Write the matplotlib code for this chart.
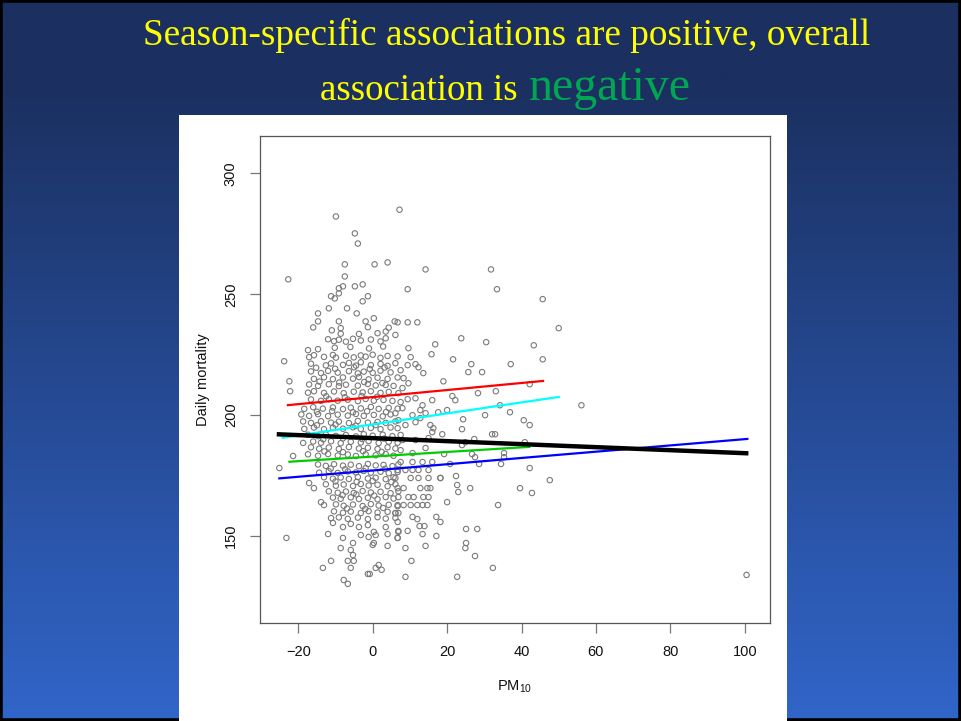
# -*- coding:utf-8 -*-

import numpy as np
import matplotlib
matplotlib.use("Agg")
import matplotlib.pyplot as plt
from matplotlib.patches import Rectangle

# ---- data ----
# (PM10, daily mortality) pairs, grouped by part of the cloud
high_points = [
    (-9.9, 282.2), (7.2, 285.0), (-4.8, 275.2), (-4.0, 271.0), (-7.5, 262.4), (0.5, 262.4),
    (4.0, 263.2), (-22.7, 256.2), (-7.5, 257.4), (-8.0, 253.3), (-9.1, 252.5), (-4.8, 253.3),
    (-2.7, 254.1), (-11.2, 249.2), (-10.2, 248.3), (-9.1, 250.4), (-1.3, 249.2), (-2.7, 247.1),
    (-14.7, 242.1), (-11.8, 244.2), (-6.9, 244.2), (-4.3, 242.1), (-14.7, 238.8), (-9.1, 238.8),
    (-1.9, 238.8), (0.3, 240.1), (5.9, 238.8), (14.2, 260.3), (31.8, 260.3), (9.4, 252.1),
    (33.4, 252.1), (6.7, 238.4), (9.4, 238.4), (12.0, 238.4),
]

right_points = [
    (45.7, 248.0), (50.0, 236.0), (43.3, 228.9), (45.7, 223.1), (42.2, 212.8), (56.1, 204.1),
    (40.6, 197.9), (42.2, 195.9), (40.9, 188.8), (42.2, 178.1), (47.6, 173.1), (39.6, 169.8),
    (42.8, 167.8), (100.5, 133.9), (33.7, 162.8), (26.2, 169.8), (23.0, 168.2), (22.7, 171.1),
    (20.0, 164.0), (25.1, 152.9), (28.1, 152.9), (25.1, 147.1), (24.9, 145.0), (27.5, 141.7),
    (32.3, 136.8), (22.7, 133.1), (8.8, 133.1), (10.4, 139.7), (8.8, 145.0), (14.2, 145.9),
    (17.1, 150.0), (13.4, 150.8), (9.4, 152.1), (6.9, 152.1), (12.6, 154.1), (13.9, 154.1),
    (10.7, 157.9), (12.0, 157.0), (17.1, 157.9), (18.2, 155.8), (28.6, 179.8), (34.5, 179.8),
    (27.5, 182.6), (35.3, 182.6), (20.8, 179.8), (22.4, 174.8), (18.2, 174.0),
    (23.8, 231.8), (30.5, 230.2), (37.1, 221.1), (25.7, 217.8), (29.4, 217.8), (26.5, 221.1),
    (21.6, 223.1), (16.8, 229.3), (15.8, 225.2), (19.0, 214.0), (28.3, 209.1), (33.1, 209.9),
    (21.4, 207.9), (22.2, 206.2), (34.2, 204.1), (30.2, 200.0), (36.9, 201.2), (24.3, 198.3),
    (20.0, 202.1), (17.6, 201.2), (24.0, 194.2), (32.1, 192.1), (32.9, 192.1), (26.7, 183.9),
    (19.2, 183.9), (35.3, 184.3), (16.0, 193.0), (18.7, 192.1), (24.0, 187.6), (24.9, 188.8),
    (27.3, 190.1),
]

mid_right_points = [
    (9.6, 227.7), (10.2, 224.0), (9.4, 220.7), (11.5, 221.1), (12.3, 219.8), (13.6, 217.4),
    (7.5, 218.6), (8.3, 215.3), (9.6, 213.2), (8.0, 211.2), (11.5, 207.0), (9.4, 206.6),
    (16.0, 206.2), (7.5, 205.4), (8.0, 202.9), (6.1, 200.8), (13.4, 204.1), (12.8, 202.1),
    (14.2, 200.8), (10.7, 200.0), (12.8, 198.8), (11.5, 197.1), (6.9, 197.9), (8.8, 195.9),
    (6.7, 194.6), (15.5, 195.9), (16.3, 194.6), (15.0, 190.5), (8.0, 189.7), (11.5, 189.7),
    (7.5, 185.5), (14.2, 186.4), (10.7, 184.3),
    (7.5, 180.6), (10.7, 180.6), (13.4, 180.6), (16.0, 180.6), (6.7, 177.3), (8.8, 177.3),
    (10.7, 177.3), (12.3, 177.3), (15.0, 177.3), (6.1, 174.0), (10.2, 174.0), (12.3, 174.0),
    (15.0, 174.0), (18.2, 174.0), (6.7, 169.8), (8.3, 169.8), (12.8, 169.8), (14.7, 169.8),
    (15.5, 169.8), (6.9, 166.1), (9.6, 166.1), (11.0, 166.1), (13.6, 166.1), (15.0, 166.1),
    (6.7, 162.8), (8.3, 162.8), (10.2, 162.8), (12.0, 162.8), (13.4, 162.8), (14.7, 162.8),
    (6.9, 159.5), (6.1, 159.5), (6.7, 155.8), (6.7, 149.2),
]

low_points = [
    (-23.8, 222.3), (-22.4, 214.0), (-22.2, 209.9), (-21.4, 183.1), (-25.1, 178.1),
    (-23.2, 149.2), (-17.1, 171.9), (-15.8, 169.8), (-13.9, 164.0), (-13.1, 162.8),
    (-11.2, 157.4), (-10.7, 155.4), (-12.0, 150.8), (-8.0, 153.7), (-5.9, 155.0), (-3.7, 153.7),
    (-1.3, 154.5), (0.3, 151.7), (3.5, 153.7), (6.9, 151.7), (-8.0, 149.2), (-5.3, 147.1),
    (-3.2, 150.4), (-1.1, 149.6), (0.8, 150.4), (4.0, 150.8), (6.7, 149.2), (0.3, 147.1),
    (0.0, 146.3), (4.0, 145.9), (-8.6, 145.0), (-5.9, 144.2), (-5.3, 142.1), (-11.2, 139.7),
    (-6.7, 139.7), (-5.1, 139.7), (-13.4, 136.8), (-5.9, 136.8), (-1.3, 134.3), (-0.8, 134.3),
    (1.6, 138.0), (0.8, 136.8), (2.4, 136.0), (-7.8, 131.8), (-6.7, 130.2),
]

cloud_upper = [
    (-16.0, 236.3), (-11.0, 235.1), (-8.6, 236.0), (-3.7, 233.6), (-1.3, 236.4), (1.3, 233.9),
    (3.5, 234.6), (4.3, 236.2), (6.1, 233.2), (-8.6, 233.7),
    (-12.0, 231.4), (-10.4, 230.6), (-9.1, 231.2), (-7.2, 230.4), (-5.3, 231.6), (-3.2, 230.9),
    (-0.5, 231.3), (2.1, 230.5), (3.5, 231.8),
    (-17.4, 226.9), (-14.7, 227.3), (-6.0, 228.2), (-1.0, 227.6), (2.8, 228.4), (-10.2, 227.9),
    (-17.1, 224.0), (-15.8, 224.8), (-13.1, 224.1), (-10.7, 224.9), (-9.9, 223.8), (-7.2, 224.6),
    (-5.1, 223.9), (-3.2, 224.7), (-1.9, 224.2), (0.0, 225.0), (2.1, 223.7), (4.0, 224.5),
    (6.7, 224.3),
    (-16.6, 221.3), (-12.6, 220.6), (-11.2, 221.4), (-8.0, 220.8), (-6.4, 221.6), (-4.5, 220.5),
    (-3.2, 221.9), (-0.5, 220.7), (2.1, 221.2), (4.0, 220.4), (6.1, 221.5),
    (-15.2, 219.6), (-10.1, 219.2), (-5.0, 219.8), (-0.8, 219.1), (3.2, 219.7),
]

cloud_middle = [
    (-16.6, 218.1), (-13.9, 217.4), (-12.0, 218.3), (-9.4, 217.6), (-6.4, 218.2), (-4.0, 217.3),
    (-2.4, 218.0), (0.0, 217.5), (2.1, 218.4), (4.8, 217.7),
    (-15.8, 215.0), (-13.1, 215.7), (-10.7, 214.9), (-8.0, 215.6), (-5.3, 215.1), (-3.7, 215.8),
    (-1.1, 214.8), (1.3, 215.5), (4.0, 215.0), (6.7, 215.6),
    (-17.1, 212.7), (-14.7, 212.1), (-11.8, 212.8), (-9.1, 212.0), (-7.2, 212.6), (-4.0, 212.2),
    (-1.3, 212.9), (0.8, 212.3), (3.5, 212.5), (5.6, 212.1),
    (-14.3, 213.9), (-9.0, 213.5), (-2.3, 213.7), (2.6, 213.3),
    (-17.4, 209.3), (-15.8, 209.9), (-13.1, 209.2), (-10.4, 209.8), (-7.8, 209.1), (-5.1, 209.7),
    (-2.7, 209.4), (-0.5, 209.9), (2.1, 209.2), (4.3, 209.6), (6.9, 209.1),
    (-12.5, 207.8), (-7.5, 207.4), (-3.0, 207.9), (1.2, 207.6),
    (-16.6, 206.5), (-13.9, 205.9), (-11.8, 206.6), (-9.4, 206.0), (-6.7, 206.4), (-4.0, 205.8),
    (-1.9, 206.7), (0.3, 206.0), (2.9, 206.3), (5.3, 205.9),
    (-18.4, 202.6), (-16.0, 203.3), (-13.4, 202.7), (-10.7, 203.2), (-8.0, 202.5), (-5.9, 203.1),
    (-3.2, 202.8), (-0.5, 203.4), (1.6, 202.6), (4.3, 203.0), (6.7, 202.7),
    (-15.0, 201.4), (-10.9, 201.7), (-5.3, 201.2), (-1.5, 201.6), (3.6, 201.3),
    (-19.2, 200.3), (-17.1, 199.7), (-14.7, 200.4), (-12.0, 199.6), (-9.4, 200.2), (-6.7, 199.8),
    (-4.5, 200.5), (-2.4, 199.7), (0.3, 200.1), (2.7, 199.5), (4.8, 200.3),
]

cloud_lower = [
    (-18.7, 197.4), (-16.6, 196.8), (-13.9, 197.5), (-11.2, 196.9), (-9.1, 197.3), (-6.4, 196.7),
    (-4.0, 197.6), (-1.3, 196.9), (1.3, 197.2), (3.5, 196.8), (6.1, 197.4),
    (-15.0, 195.8), (-10.0, 196.1), (-4.6, 195.6), (0.8, 195.9),
    (-18.4, 194.3), (-15.8, 194.9), (-13.1, 194.2), (-10.7, 194.8), (-8.0, 194.4), (-5.3, 195.0),
    (-3.2, 194.3), (-0.5, 194.7), (2.1, 194.2), (4.8, 194.9),
    (-17.4, 191.9), (-14.7, 191.3), (-12.6, 192.0), (-9.9, 191.4), (-7.2, 191.8), (-4.5, 191.2),
    (-2.4, 192.1), (0.0, 191.5), (2.7, 191.9), (5.3, 191.3), (7.5, 191.8),
    (-13.3, 190.0), (-8.0, 190.4), (-2.8, 190.1), (3.1, 190.3),
    (-18.7, 188.5), (-16.0, 189.1), (-13.9, 188.6), (-11.2, 189.2), (-8.6, 188.4), (-5.9, 189.0),
    (-3.2, 188.7), (-1.1, 189.3), (1.6, 188.5), (4.3, 189.0), (6.7, 188.6),
    (-16.6, 186.7), (-14.4, 186.1), (-11.8, 186.6), (-9.1, 186.0), (-6.4, 186.8), (-3.7, 186.2),
    (-1.3, 186.5), (1.3, 186.0), (4.0, 186.7), (6.1, 186.2),
    (-13.0, 185.0), (-8.0, 184.7), (-2.6, 185.1), (2.4, 184.8),
    (-17.4, 183.8), (-14.7, 183.2), (-12.0, 183.9), (-9.4, 183.3), (-6.7, 183.7), (-4.5, 183.1),
    (-1.9, 183.8), (0.8, 183.4), (3.5, 183.9), (5.6, 183.2),
]

cloud_bottom = [
    (-14.7, 179.6), (-12.6, 179.0), (-10.4, 179.7), (-8.0, 179.1), (-5.9, 179.5), (-3.7, 178.9),
    (-1.3, 179.8), (0.8, 179.2), (2.9, 179.4), (5.3, 178.9), (6.9, 179.6),
    (-11.3, 177.9), (-7.4, 177.6), (-1.9, 178.1), (3.3, 177.8),
    (-14.4, 176.2), (-11.8, 176.8), (-9.4, 176.1), (-6.7, 176.7), (-4.5, 176.3), (-2.4, 176.9),
    (-0.5, 176.2), (2.1, 176.6), (4.3, 176.0), (6.7, 176.5),
    (-13.1, 174.3), (-10.7, 173.7), (-8.6, 174.2), (-6.4, 173.6), (-4.0, 174.4), (-1.3, 173.8),
    (0.8, 174.1), (3.5, 173.5), (5.6, 174.3),
    (-10.0, 172.6), (-4.3, 172.4), (0.0, 172.8), (5.0, 172.3),
    (-12.6, 171.4), (-9.9, 170.8), (-7.8, 171.3), (-5.3, 170.7), (-3.2, 171.5), (-1.1, 170.9),
    (1.3, 171.2), (4.0, 170.6), (6.1, 171.4),
    (-11.8, 168.5), (-9.4, 167.9), (-7.2, 168.4), (-5.1, 167.8), (-2.7, 168.6), (-0.5, 168.0),
    (2.1, 168.3), (4.8, 167.7), (6.9, 168.5),
    (-8.1, 166.9), (-4.4, 167.2), (0.4, 166.7),
    (-10.7, 165.9), (-8.6, 165.4), (-5.9, 166.0), (-3.7, 165.3), (-1.3, 165.8), (1.3, 165.2),
    (3.5, 166.1), (5.6, 165.5),
    (-9.9, 163.1), (-7.8, 162.5), (-5.3, 163.0), (-2.7, 162.4), (-0.5, 163.2), (1.6, 162.6),
    (4.3, 162.9), (6.7, 162.3),
    (-6.9, 161.4), (-2.0, 161.2), (2.8, 161.6),
    (-10.4, 160.2), (-8.0, 159.6), (-5.9, 160.1), (-3.2, 159.5), (-1.1, 160.3), (1.3, 159.7),
    (4.0, 160.0), (6.1, 159.4),
    (-9.1, 157.7), (-6.7, 157.1), (-4.0, 157.6), (-1.3, 157.0), (1.3, 157.8), (3.5, 157.2),
    (6.1, 157.5),
]

# season-specific fits and the overall fit: x range and fitted y at the ends
fit_colors = ["red", "cyan", "#00cc00", "blue", "black"]
fit_x_start = [-23.1, -24.5, -22.7, -25.4, -25.8]
fit_x_end = [46.1, 50.3, 42.4, 101.0, 101.0]
fit_y_start = [204.1, 190.6, 180.7, 173.8, 192.1]
fit_y_end = [214.2, 207.6, 186.9, 190.2, 184.2]
fit_widths = [1.6, 1.6, 1.6, 1.6, 3.2]

TITLE_1 = "Season-specific associations are positive, overall"
TITLE_2A = "association is"
TITLE_2B = "negative"

W, H = 961, 721


def px(x, y):
    # pixel (from top-left) -> figure fraction
    return x / W, 1 - y / H


def draw_background(fig):
    bg = fig.add_axes([0, 0, 1, 1])
    bg.set_axis_off()
    top = np.array([27, 48, 96]) / 255
    bottom = np.array([49, 101, 201]) / 255
    t = np.clip((np.linspace(0, 1, 400) - 0.12) / 0.88, 0, 1)
    grad = top[None, :] * (1 - t[:, None]) + bottom[None, :] * t[:, None]
    bg.imshow(grad[:, None, :], aspect="auto", extent=[0, 1, 0, 1])
    bg.set_xlim(0, 1)
    bg.set_ylim(0, 1)
    # slide frame
    bg.add_patch(Rectangle((0, 0), 1, 1, fill=False, edgecolor="black", linewidth=4,
                           transform=bg.transAxes, clip_on=False))
    # white chart panel
    x0, y0 = px(179, 721)
    x1, y1 = px(787, 115)
    bg.add_patch(Rectangle((x0, y0), x1 - x0, y1 - y0, facecolor="white", edgecolor="none"))


def draw_title(fig):
    serif = ["Liberation Serif", "DejaVu Serif"]
    x, y = px(507, 45)
    fig.text(x, y, TITLE_1, color="#ffff00", fontsize=26.8, family=serif,
             ha="center", va="baseline")
    x, y = px(518, 100)
    fig.text(x, y, TITLE_2A, color="#ffff00", fontsize=26.6, family=serif,
             ha="right", va="baseline")
    x, y = px(529, 100)
    fig.text(x, y, TITLE_2B, color="#00a651", fontsize=34.5, family=serif,
             ha="left", va="baseline")


def plot_scatter(fig):
    left, top = px(260, 136)
    right, bottom = px(770, 623)
    ax = fig.add_axes([left, bottom, right - left, top - bottom])
    ax.set_facecolor("white")

    points = (high_points + right_points + mid_right_points + low_points
              + cloud_upper + cloud_middle + cloud_lower + cloud_bottom)
    pm10 = [p[0] for p in points]
    mortality = [p[1] for p in points]
    ax.scatter(pm10, mortality, s=15, facecolors="none", edgecolors="#7a7a7a",
               linewidths=0.8, zorder=2)

    for c, xs, xe, ys, ye, lw in zip(fit_colors, fit_x_start, fit_x_end,
                                     fit_y_start, fit_y_end, fit_widths):
        ax.plot([xs, xe], [ys, ye], color=c, linewidth=lw, zorder=3,
                solid_capstyle="butt")

    ax.set_xlim(-30.3, 106.8)
    ax.set_ylim(114.0, 315.5)
    ax.set_xticks(range(-20, 101, 20))
    ax.set_yticks(range(150, 301, 50))
    ax.set_xticklabels(["\u221220", "0", "20", "40", "60", "80", "100"])
    for s in ax.spines.values():
        s.set_color("#555555")
        s.set_linewidth(0.9)
    ax.tick_params(axis="both", length=7, width=0.9, color="#777777",
                   labelsize=10.5, pad=9, labelcolor="#111111")
    for lab in ax.get_yticklabels():
        lab.set_rotation(90)
        lab.set_va("center")
    ax.set_xlabel("PM$_{10}$", fontsize=10.5, labelpad=14, color="#111111")
    ax.set_ylabel("Daily mortality", fontsize=10.5, labelpad=10, color="#111111")
    return ax


if __name__ == '__main__':
    plt.rcParams['font.family'] = ['Liberation Sans', 'DejaVu Sans']
    plt.rcParams['mathtext.fontset'] = 'custom'
    plt.rcParams['mathtext.rm'] = 'Liberation Sans'
    plt.rcParams['mathtext.it'] = 'Liberation Sans'
    fig = plt.figure(figsize=(W / 100, H / 100), dpi=100)
    draw_background(fig)
    draw_title(fig)
    plot_scatter(fig)
    fig.savefig("out.png", dpi=100)
